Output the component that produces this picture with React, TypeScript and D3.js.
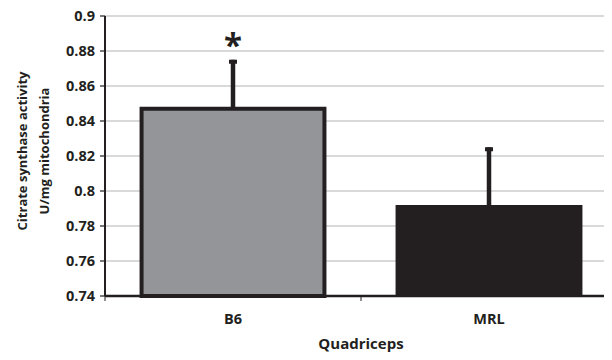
import React, { useEffect, useRef } from "react"
import * as d3 from "d3"

const categories = ["B6", "MRL"]
const means = [0.847, 0.792]
const errors = [0.028, 0.033]
const yTicks = [0.74, 0.76, 0.78, 0.8, 0.82, 0.84, 0.86, 0.88, 0.9]
const significant = [true, false]

const width = 612
const height = 360
const margin = { top: 16, left: 105, bottom: 64, right: -5 }
const font = "'Open Sans', sans-serif"
const ink = "#231f20"

export default function App() {
    const ref = useRef<SVGSVGElement>(null)

    useEffect(() => {
        const svg = d3.select(ref.current)
        svg.selectAll("*").remove()

        const innerWidth = width - margin.left - margin.right
        const innerHeight = height - margin.top - margin.bottom

        const x = d3.scaleBand()
            .domain(categories).range([0, innerWidth])
            .paddingInner(0.27).paddingOuter(0.135)
        const band = d3.scaleBand().domain(categories).range([0, innerWidth])

        const y = d3.scaleLinear().domain([0.74, 0.9]).range([innerHeight, 0])

        const g = svg.append("g")
            .attr("transform", `translate(${margin.left},${margin.top})`)

        // grid
        g.selectAll("line.grid").data(yTicks.slice(1)).enter().append("line")
            .attr("class", "grid")
            .attr("x1", 0).attr("x2", innerWidth)
            .attr("y1", d => y(d)).attr("y2", d => y(d))
            .attr("stroke", "#b3b3b3").attr("stroke-width", 1.2)

        const data = categories.map((c, i) => ({ c, v: means[i], e: errors[i], s: significant[i] }))

        // error bars (drawn behind bars)
        data.forEach(d => {
            const cx = (x(d.c) as number) + x.bandwidth() / 2
            g.append("line")
                .attr("x1", cx).attr("x2", cx)
                .attr("y1", y(d.v)).attr("y2", y(d.v + d.e))
                .attr("stroke", ink).attr("stroke-width", 4.5)
            g.append("rect")
                .attr("x", cx - 4).attr("width", 8)
                .attr("y", y(d.v + d.e)).attr("height", 4)
                .attr("fill", ink)
            if (d.s) {
                g.append("text")
                    .attr("x", cx).attr("y", y(d.v + d.e) - 3)
                    .attr("text-anchor", "middle")
                    .style("font-family", font).style("font-weight", "bold")
                    .style("font-size", "33px").attr("fill", ink)
                    .text("*")
            }
        })

        // bars
        g.append("rect")
            .attr("x", (x("B6") as number) + 2).attr("width", x.bandwidth() - 4)
            .attr("y", y(means[0])).attr("height", innerHeight - y(means[0]))
            .attr("fill", "#939598").attr("stroke", ink).attr("stroke-width", 4)
        g.append("rect")
            .attr("x", x("MRL") as number).attr("width", x.bandwidth())
            .attr("y", y(means[1])).attr("height", innerHeight - y(means[1]))
            .attr("fill", ink)

        // y axis
        g.append("line").attr("x1", 0).attr("x2", 0).attr("y1", 0).attr("y2", innerHeight)
            .attr("stroke", ink).attr("stroke-width", 2)
        g.selectAll("line.ytick").data(yTicks).enter().append("line")
            .attr("x1", -5).attr("x2", 0)
            .attr("y1", d => y(d)).attr("y2", d => y(d))
            .attr("stroke", ink).attr("stroke-width", 1.2)
        g.selectAll("text.ylab").data(yTicks).enter().append("text")
            .attr("x", -10).attr("y", d => y(d)).attr("dy", "0.36em")
            .attr("text-anchor", "end")
            .style("font-family", font).style("font-weight", "bold").style("font-size", "14.5px")
            .attr("fill", ink)
            .text(d => String(+d.toFixed(2)))

        // x axis
        g.append("line").attr("x1", 0).attr("x2", innerWidth).attr("y1", innerHeight).attr("y2", innerHeight)
            .attr("stroke", ink).attr("stroke-width", 2.5)
        const edges = [0, ...categories.map(c => (band(c) as number) + band.bandwidth())]
        g.selectAll("line.xtick").data(edges).enter().append("line")
            .attr("x1", d => d).attr("x2", d => d)
            .attr("y1", innerHeight).attr("y2", innerHeight + 5)
            .attr("stroke", ink).attr("stroke-width", 1)
        g.selectAll("text.xlab").data(categories).enter().append("text")
            .attr("x", d => (x(d) as number) + x.bandwidth() / 2)
            .attr("y", innerHeight + 28)
            .attr("text-anchor", "middle")
            .style("font-family", font).style("font-weight", "bold").style("font-size", "14.5px")
            .attr("fill", ink)
            .text(d => d)

        g.append("text")
            .attr("x", band.bandwidth()).attr("y", innerHeight + 53)
            .attr("text-anchor", "middle")
            .style("font-family", font).style("font-weight", "bold").style("font-size", "15px")
            .attr("fill", ink)
            .text("Quadriceps")

        const yl = svg.append("text")
            .attr("transform", `translate(0,151) rotate(-90)`)
            .attr("text-anchor", "middle")
            .style("font-family", font).style("font-weight", "bold").style("font-size", "13px")
            .attr("fill", ink)
        yl.append("tspan").attr("x", 0).attr("y", 27).text("Citrate synthase activity")
        yl.append("tspan").attr("x", 0).attr("y", 49).text("U/mg mitochondria")
    }, [])

    return (
        <div style={{ margin: -8 }}>
            <svg ref={ref} width={width} height={height} style={{ display: "block", background: "#fff" }} />
        </div>
    )
}
